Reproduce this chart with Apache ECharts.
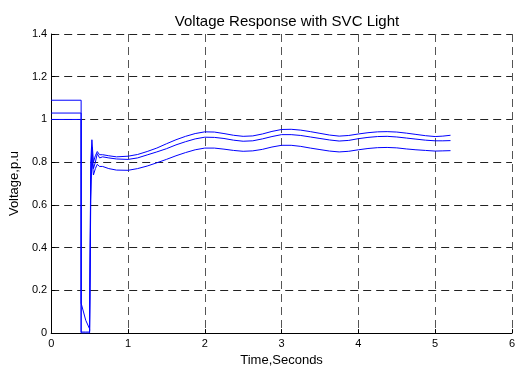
<!DOCTYPE html>
<html>
<head>
<meta charset="utf-8">
<script src="https://cdn.jsdelivr.net/npm/echarts@6/dist/echarts.min.js"></script>
<style>html,body{margin:0;padding:0;background:#fff;}#c{width:518px;height:372px;}</style>
</head>
<body>
<div id="c"></div>
<script>
// Time samples (s); duplicated times mark vertical jumps
var times = [0, 0.39, 0.39, 0.45, 0.5, 0.5, 0.515, 0.53, 0.55, 0.575, 0.6, 0.63, 0.67, 0.75, 0.85, 1.0, 1.125, 1.25, 1.375, 1.5, 1.625, 1.75, 1.875, 2.0, 2.125, 2.25, 2.375, 2.5, 2.625, 2.75, 2.875, 3.0, 3.125, 3.25, 3.375, 3.5, 3.625, 3.75, 3.875, 4.0, 4.125, 4.25, 4.375, 4.5, 4.625, 4.75, 4.875, 5.0, 5.1, 5.2];
var busTop = [1.09, 1.09, 0.005, 0.005, 0.005, 0.02, 0.80, 0.905, 0.80, 0.83, 0.85, 0.835, 0.835, 0.83, 0.825, 0.828, 0.836, 0.850, 0.866, 0.886, 0.905, 0.921, 0.934, 0.942, 0.941, 0.934, 0.926, 0.921, 0.923, 0.932, 0.944, 0.953, 0.954, 0.950, 0.943, 0.935, 0.927, 0.922, 0.925, 0.932, 0.938, 0.942, 0.943, 0.941, 0.936, 0.930, 0.924, 0.920, 0.922, 0.926];
var busMid = [1.03, 1.03, 0.14, 0.06, 0.02, 0.01, 0.72, 0.87, 0.77, 0.80, 0.84, 0.82, 0.825, 0.82, 0.815, 0.813, 0.820, 0.834, 0.848, 0.863, 0.881, 0.896, 0.909, 0.917, 0.916, 0.911, 0.903, 0.898, 0.900, 0.909, 0.920, 0.929, 0.929, 0.925, 0.918, 0.911, 0.904, 0.899, 0.902, 0.910, 0.916, 0.920, 0.921, 0.918, 0.913, 0.908, 0.903, 0.900, 0.900, 0.901];
var busLow = [1.00, 1.00, 0.0, 0.0, 0.0, 0.0, 0.62, 0.82, 0.74, 0.77, 0.79, 0.78, 0.78, 0.77, 0.763, 0.762, 0.770, 0.782, 0.797, 0.813, 0.830, 0.845, 0.858, 0.866, 0.866, 0.861, 0.855, 0.851, 0.853, 0.860, 0.871, 0.879, 0.879, 0.874, 0.866, 0.859, 0.852, 0.848, 0.851, 0.858, 0.864, 0.868, 0.869, 0.867, 0.862, 0.858, 0.855, 0.852, 0.853, 0.854];
var xTicks = {min: 0, max: 6, interval: 1};
var yTicks = {min: 0, max: 1.4, interval: 0.2};

function pairs(vals) { return times.map(function (t, i) { return [t, vals[i]]; }); }

var font = 'Liberation Sans, Arial, sans-serif';
var chart = echarts.init(document.getElementById('c'), null, {renderer: 'canvas'});
function mk(vals) {
  return {type: 'line', data: pairs(vals), showSymbol: false, symbol: 'none',
    lineStyle: {color: '#0000ff', width: 1}, itemStyle: {color: '#0000ff'}, animation: false};
}
chart.setOption({
  backgroundColor: '#ffffff',
  animation: false,
  title: {text: 'Voltage Response with SVC Light', left: 282, top: 9, textAlign: 'center',
    textStyle: {fontFamily: font, fontSize: 15, fontWeight: 'normal', color: '#000'}},
  grid: {left: 50, right: 4, top: 34, bottom: 31, containLabel: false},
  xAxis: {type: 'value', min: xTicks.min, max: xTicks.max, interval: xTicks.interval,
    name: 'Time,Seconds', nameLocation: 'middle', nameGap: 17,
    nameTextStyle: {fontFamily: font, fontSize: 13, color: '#000'},
    axisLine: {show: true, onZero: false, lineStyle: {color: '#000', width: 1}},
    axisTick: {show: true, inside: true, length: 4, lineStyle: {color: '#000'}},
    axisLabel: {fontFamily: font, fontSize: 11, color: '#000', margin: 5},
    splitLine: {show: true, lineStyle: {color: '#555', type: [8, 5], width: 1}}},
  yAxis: {type: 'value', min: yTicks.min, max: yTicks.max, interval: yTicks.interval,
    name: 'Voltage,p.u', nameLocation: 'middle', nameGap: 30,
    nameTextStyle: {fontFamily: font, fontSize: 13, color: '#000'},
    axisLine: {show: true, onZero: false, lineStyle: {color: '#000', width: 1}},
    axisTick: {show: true, inside: true, length: 4, lineStyle: {color: '#000'}},
    axisLabel: {fontFamily: font, fontSize: 11, color: '#000', margin: 4},
    splitLine: {show: true, lineStyle: {color: '#222', type: [8, 5], width: 1}}},
  series: [mk(busTop), mk(busMid), mk(busLow)]
});
</script>
</body>
</html>
